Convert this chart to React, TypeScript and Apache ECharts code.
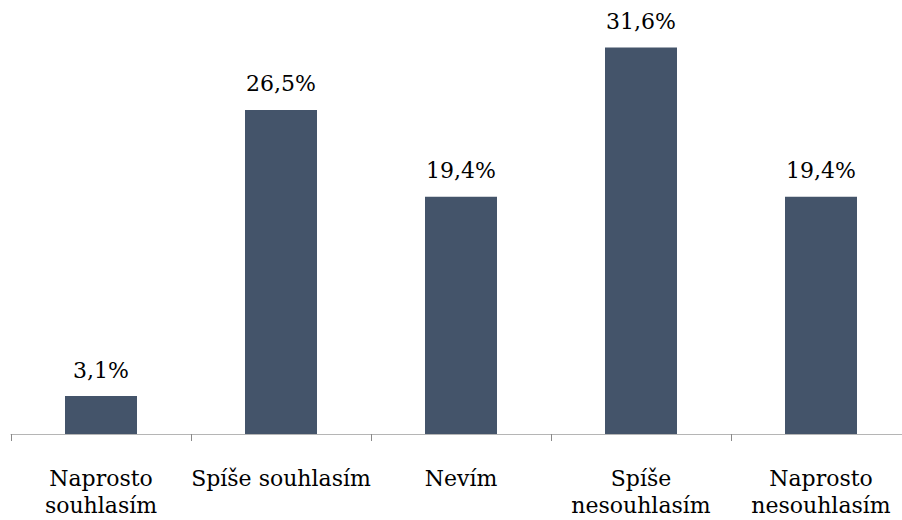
import React, { useEffect, useRef } from "react";
import * as echarts from "echarts";

const categories = [
  "Naprosto\nsouhlasím",
  "Spíše souhlasím",
  "Nevím",
  "Spíše\nnesouhlasím",
  "Naprosto\nnesouhlasím",
];
const values = [3.1, 26.5, 19.4, 31.6, 19.4];

export default function App() {
  const ref = useRef<HTMLDivElement>(null);
  useEffect(() => {
    if (!ref.current) return;
    const chart = echarts.init(ref.current, null, { renderer: "svg" });
    const font = "DejaVu Serif";
    chart.setOption({
      animation: false,
      grid: { left: 11, right: 0, top: 6, bottom: 86, containLabel: false },
      xAxis: {
        type: "category",
        data: categories,
        axisLine: { lineStyle: { color: "#b5b5b5", width: 1 } },
        axisTick: { show: true, length: 7, lineStyle: { color: "#8a8a8a" } },
        axisLabel: {
          color: "#000",
          fontFamily: font,
          fontSize: 22,
          lineHeight: 27,
          margin: 31,
          interval: 0,
        },
      },
      yAxis: {
        type: "value",
        min: 0,
        max: 35,
        show: false,
        splitLine: { show: false },
      },
      series: [
        {
          type: "bar",
          data: values,
          barWidth: "40%",
          itemStyle: { color: "#44546A" },
          label: {
            show: true,
            position: "top",
            distance: 15,
            color: "#000",
            fontFamily: font,
            fontSize: 22,
            formatter: (p: any) => p.value.toFixed(1).replace(".", ",") + "%",
          },
        },
      ],
    });
    return () => chart.dispose();
  }, []);
  return (
    <div
      style={{
        position: "absolute",
        left: 0,
        top: 0,
        width: 902,
        height: 520,
        overflow: "hidden",
        background: "#fff",
      }}
    >
      <div ref={ref} style={{ width: 911, height: 520 }} />
    </div>
  );
}
